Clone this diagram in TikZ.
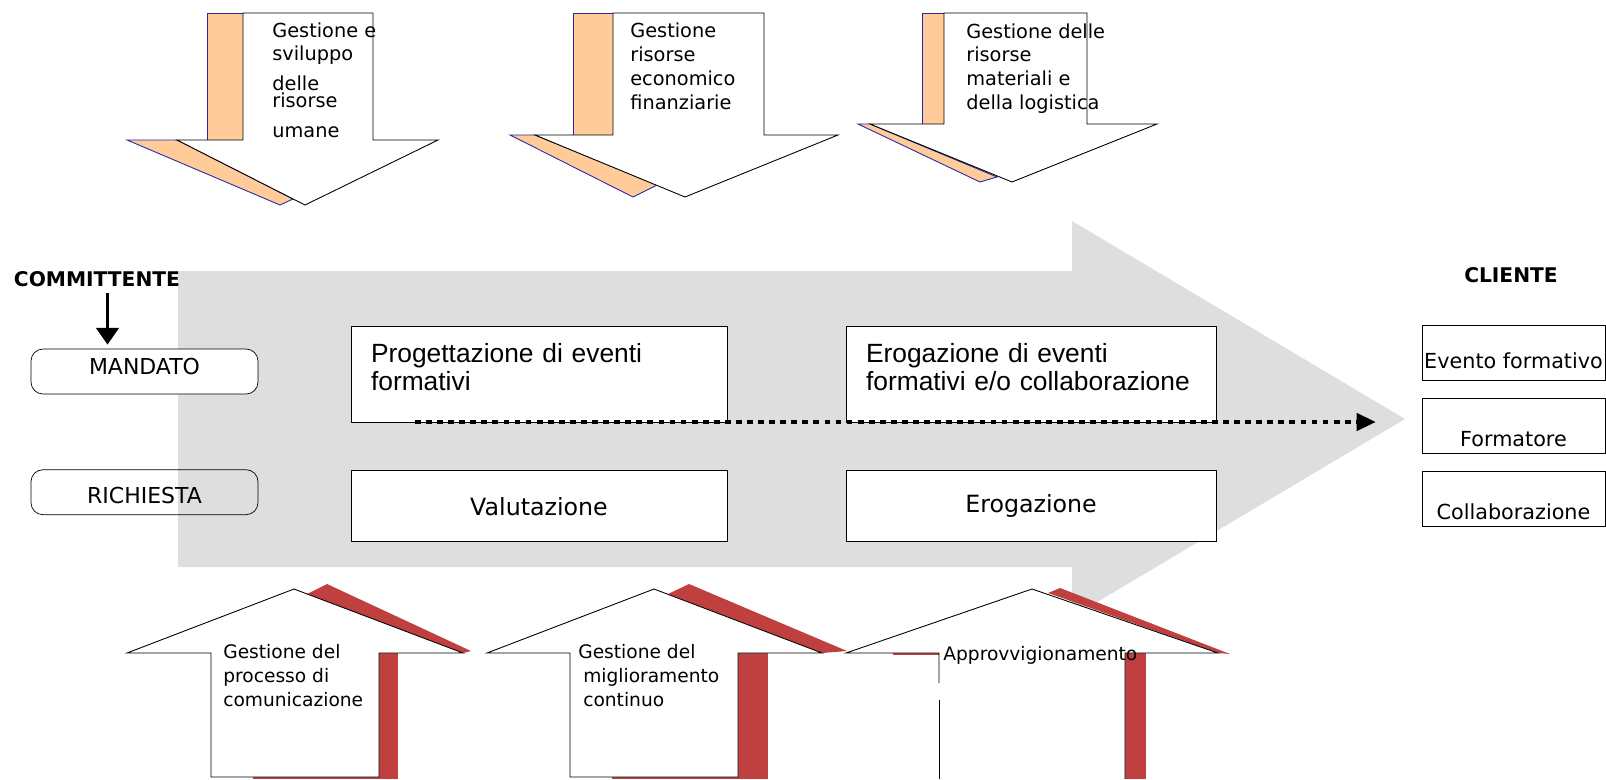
\documentclass[tikz,border=0pt]{standalone}
\usepackage{fontspec}
\setmainfont{DejaVu Sans}
\newfontfamily\arialfont{Liberation Sans}
\usetikzlibrary{arrows.meta,positioning}
\definecolor{flowgray}{RGB}{222,222,222}
\definecolor{peach}{RGB}{255,204,153}
\definecolor{brick}{RGB}{192,64,64}
\definecolor{edgeblue}{RGB}{40,40,170}

\begin{document}
\begin{tikzpicture}[
  x=0.02cm, y=-0.02cm, >=Stealth,
  res/.style={inner sep=0pt, anchor=north west, align=left,
              font=\fontsize{11}{13.6}\selectfont},
  supp/.style={res, font=\fontsize{10.6}{13.6}\selectfont},
  role/.style={draw, rounded corners=6.8pt, minimum width=4.54cm, minimum height=0.9cm,
               text depth=0pt, font=\fontsize{12.5}{15}\selectfont},
  proc/.style={draw, fill=white, text width=6.72cm, inner xsep=0.4cm, minimum height=1.92cm,
               text height=0.38cm, text depth=0.86cm, align=left,
               font=\arialfont\fontsize{15}{16}\selectfont},
  act/.style={draw, fill=white, minimum width=7.52cm, minimum height=1.42cm,
              font=\fontsize{13.5}{16}\selectfont},
  clbox/.style={draw, minimum width=3.66cm, minimum height=1.1cm, inner ysep=0pt,
                inner xsep=0.5pt, text depth=0pt, font=\fontsize{11.8}{14}\selectfont},
  party/.style={font=\bfseries\fontsize{11.5}{14}\selectfont},
  orng/.style={fill=peach, draw=edgeblue, line width=0.5pt},
  wbody/.style={fill=white, draw=black, line width=0.5pt},
  cmarr/.style={line width=1.9pt, -{Triangle[length=9.6pt,width=12.8pt]}, shorten >=2.3pt},
  flow/.style={line width=2.6pt, dash pattern=on 3.3pt off 3pt,
               -{Triangle[length=11pt,width=9.6pt]}},
]
  \useasboundingbox (0,0) rectangle (1606,779);

  % main flow
  \fill[flowgray] (178,271) -- (1072,271) -- (1072,221) -- (1405,419)
                  -- (1072,617) -- (1072,567) -- (178,567) -- cycle;

  % resources, from above
  \filldraw[orng] (207,140) -- (207,13) -- (243,13) -- (243,140) -- cycle;
  \filldraw[orng] (127,140) -- (177,140) -- (293,199) -- (280,205) -- cycle;
  \filldraw[wbody] (243,13) -- (373,13) -- (373,140) -- (438,140) -- (305,205)
                   -- (177,140) -- (243,140) -- cycle;
  \filldraw[orng] (573,135) -- (573,13) -- (613,13) -- (613,135) -- cycle;
  \filldraw[orng] (510,135) -- (535,135) -- (657,185) -- (633,197) -- cycle;
  \filldraw[wbody] (613,13) -- (764,13) -- (764,135) -- (838,135) -- (685,197)
                   -- (535,135) -- (613,135) -- cycle;
  \filldraw[orng] (922,124) -- (922,13) -- (944,13) -- (944,124) -- cycle;
  \filldraw[orng] (858,124) -- (870,124) -- (997,177) -- (980,182) -- cycle;
  \filldraw[wbody] (944,13) -- (1087,13) -- (1087,124) -- (1157,124) -- (1012,182)
                   -- (870,124) -- (944,124) -- cycle;

  % support, from below
  \fill[brick] (379,653) rectangle (398,779);
  \fill[brick] (253,776) rectangle (398,779);
  \fill[brick] (307,594) -- (327,584) -- (471,651) -- (463,653) -- cycle;
  \filldraw[wbody] (211,777) -- (211,653) -- (127,653) -- (294,589) -- (463,653)
                   -- (379,653) -- (379,777) -- cycle;
  \fill[brick] (738,653) rectangle (768,779);
  \fill[brick] (612,776) rectangle (768,779);
  \fill[brick] (668,594) -- (689,584) -- (847,651) -- (822,653) -- cycle;
  \filldraw[wbody] (570,777) -- (570,653) -- (487,653) -- (654,589) -- (822,653)
                   -- (738,653) -- (738,777) -- cycle;
  \fill[brick] (1125,653) rectangle (1146,779);
  \fill[brick] (893,652) rectangle (939,655);
  \fill[brick] (1048,593) -- (1060,588) -- (1230,654) -- (1218,653) -- cycle;
  \fill[white] (939,779) -- (939,653) -- (846,653) -- (1032,589) -- (1218,653)
               -- (1125,653) -- (1125,779) -- cycle;
  \draw[line width=0.5pt] (939,683) -- (939,653) -- (846,653) -- (1032,589)
                          -- (1218,653) -- (1125,653) -- (1125,779);
  \draw[line width=0.5pt] (939,700) -- (939,779);

  \node[res] (hr) at (272,22) {Gestione e\\sviluppo\\[3.4pt]delle\\[-4pt]risorse\\[3.4pt]umane};
  \node[res, font=\fontsize{11}{13.8}\selectfont] (fin) at (630,22)
       {Gestione\\risorse\\economico\\finanziarie};
  \node[res] (log) at (966,23) {Gestione delle\\risorse\\materiali e\\della logistica};
  \node[supp] (com) at (223,644) {Gestione del\\processo di\\comunicazione};
  \node[supp] (mig) at (578,644)
       {Gestione del\\\hspace*{2.8pt}miglioramento\\\hspace*{2.8pt}continuo};
  \node[supp] (app) at (943,646) {Approvvigionamento};

  % committente
  \node[party] (comm) at (97,279) {COMMITTENTE};
  \node[role, fill=white, text height=0.1cm] (mand) at (144.5,371.5) {MANDATO};
  \node[role, text height=0.44cm, below=1.5cm of mand] (rich) {RICHIESTA};
  \draw[cmarr] ([xshift=0.21cm]comm.south) -- ([xshift=0.21cm]comm.south |- mand.north);

  % processi
  \node[proc] (prog) at (539,374) {Progettazione di eventi\\formativi};
  \node[proc, text width=6.6cm] (ero) at (1031,374)
       {Erogazione di eventi\\formativi e/o collaborazione};
  \node[act, below=0.96cm of prog] (val) {Valutazione};
  \node[act, minimum width=7.4cm, below=0.96cm of ero] (erog) {Erogazione};

  \coordinate (fs) at (415,422);
  \coordinate (fe) at (1376,422);
  \draw[flow] (fs) -- (fe);

  % cliente
  \node[party] (cli) at (1511,275) {CLIENTE};
  \node[clbox, text height=0.62cm] (evt) at (1513.5,352.5) {Evento formativo};
  \node[clbox, text height=0.8cm, below=0.36cm of evt] (frm) {Formatore};
  \node[clbox, text height=0.82cm, below=0.34cm of frm] (col) {Collaborazione};
\end{tikzpicture}
\end{document}
